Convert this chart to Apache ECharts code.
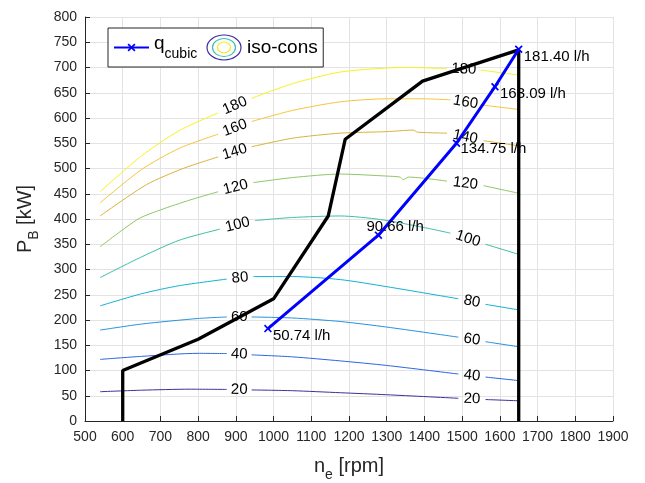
<!DOCTYPE html>
<html><head><meta charset="utf-8">
<script src="https://cdn.jsdelivr.net/npm/echarts@6/dist/echarts.min.js"></script>
<style>html,body{margin:0;padding:0;background:#fff}#c{width:645px;height:483px}</style>
</head><body><div id="c"></div>
<script>
// ---- data ----
const xMin = 500, xMax = 1900, xStep = 100;
const yMin = 0, yMax = 800, yStep = 50;

const levels = [20, 40, 60, 80, 100, 120, 140, 160, 180];
// iso-consumption contours [rpm, kW]; null = gap for inline label
const iso20  = [[540,58],[650,61],[778,63],[876,62.5],null,[942,61.5],[1050,60],[1177,56],[1300,52],[1490,45],null,[1562,42.5],[1650,40]];
const iso40  = [[540,122],[650,128],[800,134],[876,133.5],null,[942,131],[1050,127],[1177,119],[1300,110],[1490,93],null,[1562,87],[1650,80]];
const iso60  = [[540,180],[650,192],[800,203],[876,206],null,[942,206],[1050,204],[1177,197],[1300,186],[1490,166],null,[1562,157],[1650,147]];
const iso80  = [[540,228],[650,252],[750,268],[876,281],null,[946,286],[1050,286],[1177,280],[1300,266],[1490,242],null,[1562,231],[1650,220]];
const iso100 = [[540,284],[650,325],[750,358],[858,380],null,[951,397],[1050,403],[1177,406],[1283,399],[1400,383],[1469,372],null,[1562,350],[1650,330]];
const iso120 = [[540,345],[641,400],[700,418],[780,438],[853,454],null,[946,472],[1050,482],[1177,489],[1300,485],[1335,483],[1344,478],[1358,483],[1460,475],null,[1557,466],[1650,451]];
const iso140 = [[540,406],[663,468],[760,500],[853,523],null,[942,543],[1050,560],[1177,570],[1300,573],[1370,576],[1382,572],[1460,570],null,[1557,555],[1650,545]];
const iso160 = [[540,432],[650,498],[750,540],[853,568],null,[942,593],[1050,615],[1177,632],[1300,638],[1400,638],[1469,636],null,[1549,626],[1650,617]];
const iso180 = [[540,454],[650,525],[750,575],[853,610],null,[942,639],[1050,668],[1177,691],[1300,699],[1354,700],[1460,698],null,[1549,695],[1650,685]];

// full-load curve
const fullLoadRpm = [600, 600, 800, 1000, 1145, 1190, 1395, 1650, 1650];
const fullLoadKw  = [0, 100, 162, 242, 406, 558, 673, 735, 0];

// q_cubic propeller curve
const qRpm  = [985, 1278, 1485, 1587, 1650];
const qKw   = [183, 368, 550, 662, 736];
const qText = ['50.74 l/h', '90.66 l/h', '134.75 l/h', '163.09 l/h', '181.40 l/h'];

// ---- styles ----
const isoColors = ['#3e2f9e','#2a66e0','#2592e0','#10b2d2','#3cbfa4','#8fc666','#d8b43a','#f7c43a','#f6f31e'];
const qLabelOffsets = [[5,7],[-12,-8],[4,6],[5,7],[5,8]];
const FONT = 'Liberation Sans, Arial, sans-serif';

const isoAll = [iso20, iso40, iso60, iso80, iso100, iso120, iso140, iso160, iso180];

const labelData = [];
isoAll.forEach((c, k) => c.forEach((p, i) => {
  if (p === null) {
    const a = c[i-1], b = c[i+1];
    labelData.push([(a[0]+b[0])/2, (a[1]+b[1])/2, k, i]);
  }
}));

const svg = "<svg xmlns='http://www.w3.org/2000/svg' width='36' height='27' viewBox='0 0 36 27'>" +
  "<ellipse cx='18' cy='13.5' rx='17' ry='12.5' fill='none' stroke='#3e2f9e' stroke-width='1.2'/>" +
  "<ellipse cx='18' cy='13.5' rx='11.5' ry='9' fill='none' stroke='#35bfb0' stroke-width='1.2'/>" +
  "<ellipse cx='18' cy='13.5' rx='6.5' ry='5.5' fill='none' stroke='#f0ea10' stroke-width='1.2'/></svg>";
const isoIcon = 'image://data:image/svg+xml;charset=utf-8,' + encodeURIComponent(svg);

const xMark = 'path://M0,1.5L1.5,0L5,3.5L8.5,0L10,1.5L6.5,5L10,8.5L8.5,10L5,6.5L1.5,10L0,8.5L3.5,5Z';

const series = [];
isoAll.forEach((c, k) => {
  series.push({
    name: 'iso-cons', type: 'line', symbol: 'none', smooth: 0.25,
    connectNulls: false, silent: true,
    itemStyle: { color: isoColors[k] },
    lineStyle: { color: isoColors[k], width: 1 },
    data: c.map(p => p === null ? ['-', '-'] : p),
    z: 2
  });
});
series.push({
  type: 'custom', silent: true, z: 3,
  data: labelData,
  renderItem: function (params, api) {
    const k = api.value(2), i = api.value(3);
    const c = isoAll[k];
    const a = api.coord(c[i-1]), b = api.coord(c[i+1]);
    const ang = Math.atan2(-(b[1]-a[1]), b[0]-a[0]);
    return {
      type: 'text', x: (a[0]+b[0])/2, y: (a[1]+b[1])/2, rotation: ang,
      style: { text: String(levels[k]), fontSize: 15, fontFamily: FONT, fill: '#000', align: 'center', verticalAlign: 'middle' }
    };
  }
});
series.push({
  name: 'full-load', type: 'line', symbol: 'none', silent: true, z: 4,
  lineStyle: { color: '#000', width: 3.3 }, itemStyle: { color: '#000' },
  data: fullLoadRpm.map((x, i) => [x, fullLoadKw[i]])
});
series.push({
  name: 'q_cubic', type: 'line', symbol: xMark, symbolSize: 8, z: 5,
  lineStyle: { color: '#0000ff', width: 3 }, itemStyle: { color: '#0000ff' },
  data: qRpm.map((x, i) => ({
    value: [x, qKw[i]],
    label: {
      show: true, position: 'inside', align: 'left', verticalAlign: 'middle',
      offset: qLabelOffsets[i], formatter: qText[i],
      fontSize: 15, fontFamily: FONT, color: '#000'
    }
  }))
});

const plain = v => String(v);

const chart = echarts.init(document.getElementById('c'), null, { renderer: 'canvas' });
chart.setOption({
  animation: false,
  backgroundColor: '#fff',
  textStyle: { fontFamily: FONT },
  grid: { left: 85, right: 32, top: 17, bottom: 62, containLabel: false, outerBoundsMode: 'none' },
  legend: [
    {
      data: ['q_cubic'], left: 108, top: 28, orient: 'horizontal',
      padding: [6, 126, 6, 5], itemWidth: 35, itemHeight: 10,
      backgroundColor: '#fff', borderColor: '#262626', borderWidth: 1,
      formatter: () => '{m|q}{s|cubic}',
      textStyle: { color: '#000', fontFamily: FONT, rich: {
        m: { fontSize: 19, fontFamily: FONT, color: '#000', lineHeight: 22, verticalAlign: 'top' },
        s: { fontSize: 14, fontFamily: FONT, color: '#000', padding: [13, 0, 0, 0], verticalAlign: 'bottom' }
      } }
    },
    {
      data: [{ name: 'iso-cons', icon: isoIcon }], left: 206, top: 34,
      padding: 0, itemWidth: 36, itemHeight: 27,
      textStyle: { color: '#000', fontSize: 19, fontFamily: FONT }
    }
  ],
  xAxis: {
    type: 'value', min: xMin, max: xMax, interval: xStep,
    name: '{m|n}{s|e}{m| [rpm]}', nameLocation: 'middle', nameGap: 35,
    nameTextStyle: { rich: {
      m: { fontSize: 20, fontFamily: FONT, color: '#262626', verticalAlign: 'top', lineHeight: 22 },
      s: { fontSize: 14, fontFamily: FONT, color: '#262626', padding: [12, 0, 0, 0], verticalAlign: 'bottom' }
    } },
    axisLine: { show: true, onZero: false, lineStyle: { color: '#262626', width: 1 } },
    axisTick: { show: true, inside: true, length: 5, lineStyle: { color: '#262626' } },
    axisLabel: { fontSize: 14, color: '#262626', fontFamily: FONT, margin: 9, formatter: plain },
    splitLine: { show: true, lineStyle: { color: '#e3e3e3', width: 1 } }
  },
  yAxis: {
    type: 'value', min: yMin, max: yMax, interval: yStep,
    name: '{m|P}{s|B}{m| [kW]}', nameLocation: 'middle', nameGap: 44, nameRotate: 90,
    nameTextStyle: { rich: {
      m: { fontSize: 20, fontFamily: FONT, color: '#262626', verticalAlign: 'top', lineHeight: 22 },
      s: { fontSize: 14, fontFamily: FONT, color: '#262626', padding: [12, 0, 0, 0], verticalAlign: 'bottom' }
    } },
    axisLine: { show: true, onZero: false, lineStyle: { color: '#262626', width: 1 } },
    axisTick: { show: true, inside: true, length: 5, lineStyle: { color: '#262626' } },
    axisLabel: { fontSize: 14, color: '#262626', fontFamily: FONT, margin: 8, formatter: plain },
    splitLine: { show: true, lineStyle: { color: '#e3e3e3', width: 1 } }
  },
  series: series
});
</script></body></html>
